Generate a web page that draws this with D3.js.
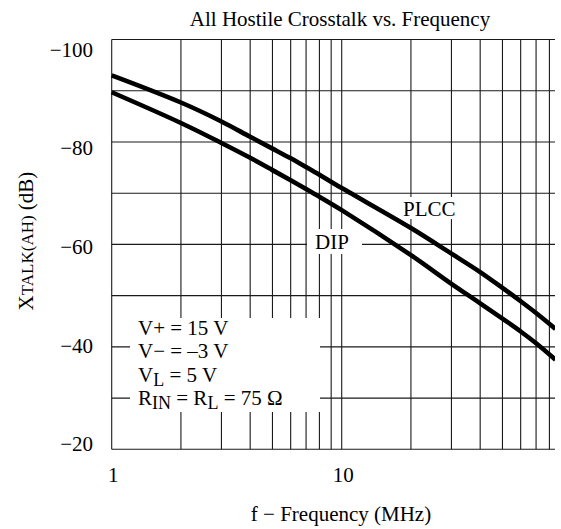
<!DOCTYPE html>
<html>
<head>
<meta charset="utf-8">
<script src="https://cdn.jsdelivr.net/npm/d3@7"></script>
<style>
  html, body { margin: 0; padding: 0; background: #fff; }
  svg { display: block; font-family: "Liberation Serif", "Times New Roman", serif; }
</style>
</head>
<body>
<div id="chart"></div>
<script>
// ---- data ----
const freqMHz = [1, 2, 3, 4, 5, 6, 7, 8, 10, 20, 30, 40, 50, 60, 70, 85];
const plccDB  = [-93.0, -87.7, -84.0, -81.0, -78.7, -76.8, -75.1, -73.6, -71.0, -63.2, -58.2, -54.6, -51.5, -48.9, -46.6, -43.5];
const dipDB   = [-89.7, -83.7, -79.8, -76.9, -74.5, -72.5, -70.8, -69.3, -66.7, -57.9, -52.3, -48.5, -45.5, -43.0, -40.7, -37.5];
const seriesNames = ["PLCC", "DIP"];
const yTickValues = [-100, -80, -60, -40, -20];
const yGridValues = [-100, -90, -80, -70, -60, -50, -40, -30, -20];
const xTickValues = [1, 10];
const xGridValues = [1, 2, 3, 4, 5, 6, 7, 8, 9, 10, 20, 30, 40, 50, 60, 70, 80];
const legendLines = [
  [["V+ = 15 V", false]],
  [["V\u2212 = \u20133 V", false]],
  [["V", false], ["L", true], [" = 5 V", false]],
  [["R", false], ["IN", true], [" = R", false], ["L", true], [" = 75 \u03A9", false]]
];
const titleText = "All Hostile Crosstalk vs. Frequency";
const xTitle = "f \u2212 Frequency (MHz)";

// ---- layout ----
const W = 561, H = 529;
const pLeft = 111.7, pTop = 39.5, pBottom = 449.3, clipRight = 555;
const decade = 230;

const svg = d3.select("#chart").append("svg").attr("width", W).attr("height", H);

const x = d3.scaleLog().domain([1, 100]).range([pLeft, pLeft + 2 * decade]);
const y = d3.scaleLinear().domain([-100, -20]).range([pTop, pBottom]);
// tick labels in the reference sit on a slightly compressed ladder
const yLab = d3.scaleLinear().domain([-100, -20]).range([49.5, 444]);

svg.append("defs").append("clipPath").attr("id", "plotclip")
  .append("rect").attr("x", pLeft - 2).attr("y", pTop - 2)
  .attr("width", clipRight - pLeft + 2).attr("height", pBottom - pTop + 4);

const plot = svg.append("g").attr("clip-path", "url(#plotclip)");

// grid
plot.selectAll("line.vg").data(xGridValues).enter().append("line")
  .attr("x1", d => x(d)).attr("x2", d => x(d))
  .attr("y1", pTop).attr("y2", pBottom)
  .attr("stroke", "#1a1a1a").attr("stroke-width", 1.1);
plot.selectAll("line.hg").data(yGridValues).enter().append("line")
  .attr("x1", pLeft).attr("x2", clipRight + 2)
  .attr("y1", d => y(d)).attr("y2", d => y(d))
  .attr("stroke", "#1a1a1a").attr("stroke-width", 1.1);

// white boxes behind annotations
svg.append("rect").attr("x", 130).attr("y", 318).attr("width", 190).attr("height", 94).attr("fill", "#fff");
svg.append("rect").attr("x", 307).attr("y", 229).attr("width", 55).attr("height", 25).attr("fill", "#fff");
svg.append("rect").attr("x", 400).attr("y", 197).attr("width", 62).attr("height", 22).attr("fill", "#fff");

// curves
const line = d3.line()
  .x(d => x(d[0])).y(d => y(d[1]))
  .curve(d3.curveCatmullRom.alpha(0.5));
const series = [plccDB, dipDB].map(vals => freqMHz.map((f, i) => [f, vals[i]]));
plot.selectAll("path.curve").data(series).enter().append("path")
  .attr("d", line)
  .attr("fill", "none").attr("stroke", "#000").attr("stroke-width", 4.6)
  .attr("stroke-linejoin", "round");

// series labels
svg.append("text").attr("x", 403).attr("y", 216).attr("font-size", 21).text(seriesNames[0]);
svg.append("text").attr("x", 315).attr("y", 248.5).attr("font-size", 21).text(seriesNames[1]);

// legend text
const lg = svg.append("g");
legendLines.forEach((parts, i) => {
  const t = lg.append("text").attr("x", 138).attr("y", 335 + i * 23.4).attr("font-size", 21);
  let shifted = false;
  parts.forEach(([s, sub]) => {
    const ts = t.append("tspan").text(s);
    if (sub && !shifted) { ts.attr("dy", 4).attr("font-size", 18); shifted = true; }
    else if (sub && shifted) { ts.attr("font-size", 18); }
    else if (!sub && shifted) { ts.attr("dy", -4); shifted = false; }
  });
});

// y tick labels
svg.selectAll("text.yt").data(yTickValues).enter().append("text")
  .attr("x", 93).attr("y", d => yLab(d)).attr("dy", "0.35em")
  .attr("text-anchor", "end").attr("font-size", 21)
  .text(d => "\u2212" + Math.abs(d));

// x tick labels
svg.selectAll("text.xt").data(xTickValues).enter().append("text")
  .attr("x", d => x(d) + 1.5).attr("y", 482)
  .attr("text-anchor", "middle").attr("font-size", 21)
  .text(d => d);

// title
svg.append("text").attr("x", 340).attr("y", 26).attr("text-anchor", "middle")
  .attr("font-size", 21).text(titleText);

// x axis title
svg.append("text").attr("x", 341).attr("y", 521).attr("text-anchor", "middle")
  .attr("font-size", 21).text(xTitle);

// y axis title
const yt = svg.append("text").attr("transform", "translate(33,241) rotate(-90)")
  .attr("text-anchor", "middle").attr("font-size", 21);
yt.append("tspan").text("X");
yt.append("tspan").attr("font-size", 17).text("TALK(AH)");
yt.append("tspan").text(" (dB)");
</script>
</body>
</html>
